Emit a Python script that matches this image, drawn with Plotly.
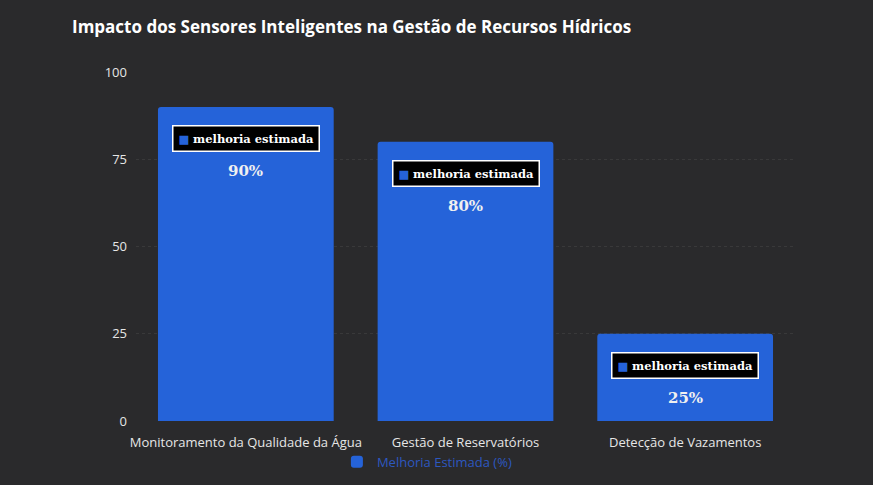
import plotly.graph_objects as go

categories = ["Monitoramento da Qualidade da Água", "Gestão de Reservatórios", "Detecção de Vazamentos"]
values = [90, 80, 25]
series_name = "Melhoria Estimada (%)"
tooltip_label = "melhoria estimada"
y_ticks = [0, 25, 50, 75, 100]

BAR = "#2563d9"

fig = go.Figure()
fig.add_trace(go.Bar(
    x=categories, y=values, name=series_name,
    marker=dict(color=BAR, line=dict(width=0)),
    width=0.8, hoverinfo="skip",
))

for c, v in zip(categories, values):
    fig.add_annotation(
        x=c, y=v, yref="y", yanchor="middle", yshift=-32,
        text=f"<span style='color:{BAR}'>■</span> <b>{tooltip_label}</b>",
        showarrow=False, bgcolor="#000000", bordercolor="#ffffff", borderwidth=1.5,
        borderpad=5, font=dict(family="DejaVu Serif", size=11.5, color="#ffffff"),
    )
    fig.add_annotation(
        x=c, y=v, yref="y", yanchor="middle", yshift=-64,
        text=f"<b>{v}%</b>", showarrow=False,
        font=dict(family="DejaVu Serif", size=15, color="#f0f0f0"),
    )

fig.update_layout(
    width=873, height=485,
    paper_bgcolor="#2a2a2c", plot_bgcolor="rgba(0,0,0,0)",
    margin=dict(l=136, r=78, t=72, b=64, autoexpand=False),
    title=dict(text="<b>Impacto dos Sensores Inteligentes na Gestão de Recursos Hídricos</b>",
               x=0, xref="container", xanchor="left", y=0.944, yanchor="middle",
               pad=dict(l=72),
               font=dict(family="Open Sans", size=17, color="#ffffff")),
    showlegend=True,
    legend=dict(orientation="h", x=0.489, xref="container", xanchor="center",
                y=0.048, yref="container", yanchor="middle",
                font=dict(family="Open Sans", size=13, color="#2d58c0"),
                itemwidth=30, bgcolor="rgba(0,0,0,0)"),
    bargap=0.2,
    barcornerradius=3,
)
fig.update_yaxes(range=[0, 100], tickvals=y_ticks, showgrid=True, automargin=False,
                 gridcolor="rgba(255,255,255,0.07)", griddash="dot", gridwidth=1,
                 zeroline=False, showline=False, ticks="", ticklabelstandoff=8,
                 tickfont=dict(family="Open Sans", size=13, color="#e6e6e6"))
fig.update_xaxes(showgrid=False, showline=False, ticks="", ticklabelstandoff=12, automargin=False,
                 tickfont=dict(family="Open Sans", size=13, color="#e6e6e6"))

fig.write_html("out.html", config={"displayModeBar": False},
               post_script="document.body.style.margin='0';document.body.style.background='#2a2a2c';")
